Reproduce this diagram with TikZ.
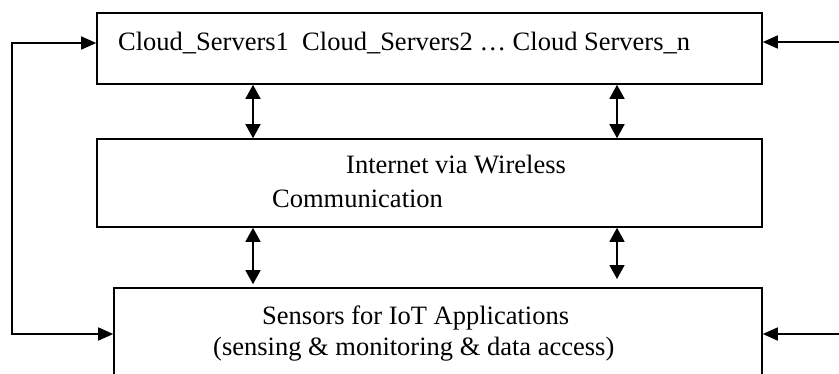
\documentclass[tikz,border=0pt]{standalone}
\usepackage{fontspec}
\setmainfont{Liberation Serif}
\usetikzlibrary{arrows.meta}
\begin{document}
\begin{tikzpicture}[x=1pt,y=1pt,
  block/.style={draw, line width=1.6pt, rectangle, inner sep=0pt},
  label/.style={anchor=base west, inner sep=0pt, font=\fontsize{26.5}{34}\selectfont},
  link/.style={line width=1.6pt, {Triangle[length=14pt,width=15pt]}-{Triangle[length=14pt,width=15pt]}},
  feed/.style={line width=1.6pt, -{Triangle[length=15pt,width=13pt]}}]
\useasboundingbox (0,0) rectangle (839,-373);
\clip (0,0) rectangle (839,-373);
\fill[white] (0,0) rectangle (839,-373);

% the three layers
\node[block, minimum width=665pt, minimum height=71pt] (cloud) at (429.5,-48.5) {};
\node[block, minimum width=665pt, minimum height=88pt] (net) at (429.5,-183) {};
\node[block, minimum width=648pt, minimum height=124pt] (sens) at (438,-350) {};

% layer texts
\node[label] (tcloud) at (118,-50) {Cloud\_Servers1\ \ Cloud\_Servers2 … Cloud Servers\_n};
\node[label] (tnet1) at (346,-173) {Internet via Wireless};
\node[label] (tnet2) at (272,-207) {Communication};
\node[label] (tsens1) at (262,-324) {Sensors for IoT Applications};
\node[label] (tsens2) at (213,-355) {(sensing \& monitoring \& data access)};

% vertical two-way links
\coordinate (cl) at (253,0);
\coordinate (cr) at (617,0);
\coordinate (rend) at (617,-279);
\draw[link] (cloud.south -| cl) -- (net.north -| cl);
\draw[link] (cloud.south -| cr) -- (net.north -| cr);
\draw[link] (net.south -| cl) -- ([yshift=3pt]sens.north -| cl);
\draw[link] (net.south -| cr) -- (rend);

% left feedback loop
\coordinate (lt) at (12,-43);
\coordinate (lb) at (12,-334);
\draw[line width=1.6pt, {Triangle[length=15pt,width=13pt]}-{Triangle[length=15pt,width=13pt]}]
  (cloud.west |- lt) -- (lt) -- (lb) -- (sens.west |- lb);

% right inputs
\coordinate (rt) at (839,-42);
\coordinate (rb) at (839,-334);
\draw[feed] (rt) -- (cloud.east |- rt);
\draw[feed] (rb) -- (sens.east |- rb);
\end{tikzpicture}
\end{document}
